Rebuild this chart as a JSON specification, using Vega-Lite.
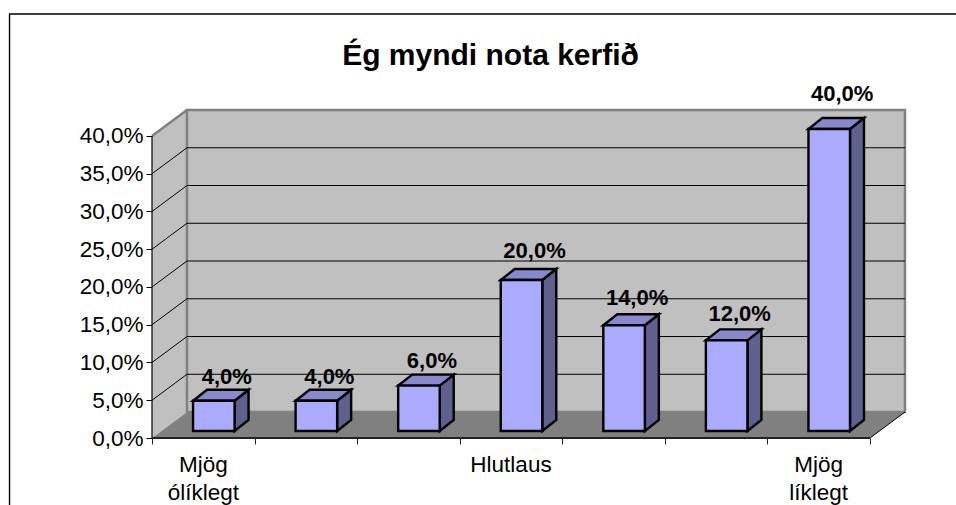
{
"$schema":"https://vega.github.io/schema/vega-lite/v6.json",
"autosize":"none","width":753,"height":328,
"padding":{"left":152,"top":110,"right":51,"bottom":67},
"background":"white",
"title":{"text":"Ég myndi nota kerfið","font":"Liberation Sans","fontSize":30,"fontWeight":"bold","color":"black","anchor":"middle","dx":-38,"offset":-58},
"config":{"view":{"stroke":null}},
"datasets":{
"bars":[
{"index":0,"value":4,"label":"Mjög\nólíklegt"},
{"index":1,"value":4,"label":""},
{"index":2,"value":6,"label":""},
{"index":3,"value":20,"label":"Hlutlaus"},
{"index":4,"value":14,"label":""},
{"index":5,"value":12,"label":""},
{"index":6,"value":40,"label":"Mjög\nlíklegt"}],
"grid":[{"tick":5},{"tick":10},{"tick":15},{"tick":20},{"tick":25},{"tick":30},{"tick":35}],
"one":[{"n":1}],
"ends":[{"t":0},{"t":1}]
},
"layer":[
{"data":{"name":"ends"},"transform":[{"calculate":"datum.t*0.341","as":"px"},{"calculate":"datum.t*3.44","as":"low"},{"calculate":"40+datum.t*3.44","as":"high"}],
 "mark":{"type":"area","orient":"vertical","fill":"#C0C0C0","opacity":1},
 "encoding":{"x":{"field":"px","type":"quantitative","scale":{"domain":[0,7.3413],"nice":false,"zero":false},
   "axis":{"values":[0,1,2,3,4,5,6,7],"labels":false,"ticks":true,"tickSize":6,"tickColor":"#222222","tickWidth":1,"domain":false,"grid":false,"title":null}},
  "y":{"field":"low","type":"quantitative","scale":{"domain":[0,43.44],"nice":false,"zero":false},
   "axis":{"values":[0,5,10,15,20,25,30,35,40],"labelExpr":"replace(format(datum.value,'.1f'),'.',',')+'%'","labelFont":"Liberation Sans","labelFontSize":22.5,"labelColor":"black","labelPadding":3,"tickSize":6,"tickColor":"black","tickWidth":1,"domain":false,"grid":false,"title":null}},
  "y2":{"field":"high"}}},
{"data":{"name":"one"},"mark":{"type":"rect","fill":"transparent","stroke":"black","strokeWidth":1.4},
 "encoding":{"x":{"datum":-1.389,"type":"quantitative","scale":{"domain":[0,7.3413],"nice":false,"zero":false}},
  "x2":{"datum":9},
  "y":{"datum":56.15,"type":"quantitative","scale":{"domain":[0,43.44],"nice":false,"zero":false}},
  "y2":{"datum":-12}}},
{"data":{"name":"one"},"mark":{"type":"rect","fill":"#C0C0C0","stroke":"#808080","strokeWidth":2.5},
 "encoding":{"x":{"datum":0.341,"type":"quantitative","scale":{"domain":[0,7.3413],"nice":false,"zero":false}},"x2":{"datum":7.341},
  "y":{"datum":3.44,"type":"quantitative","scale":{"domain":[0,43.44],"nice":false,"zero":false}},"y2":{"datum":43.44}}},
{"data":{"name":"one"},"mark":{"type":"rule","stroke":"#808080","strokeWidth":2.5},
 "encoding":{"x":{"datum":0,"type":"quantitative","scale":{"domain":[0,7.3413],"nice":false,"zero":false}},"x2":{"datum":0.341},
  "y":{"datum":40,"type":"quantitative","scale":{"domain":[0,43.44],"nice":false,"zero":false}},"y2":{"datum":43.44}}},
{"data":{"name":"grid"},"transform":[{"calculate":"datum.tick+3.44","as":"back"}],"mark":{"type":"rule","stroke":"black","strokeWidth":1},
 "encoding":{"x":{"datum":0.341,"type":"quantitative","scale":{"domain":[0,7.3413],"nice":false,"zero":false}},"x2":{"datum":7.341},
  "y":{"field":"back","type":"quantitative","scale":{"domain":[0,43.44],"nice":false,"zero":false}}}},
{"data":{"name":"grid"},"transform":[{"calculate":"datum.tick+3.44","as":"back"}],"mark":{"type":"rule","stroke":"black","strokeWidth":1},
 "encoding":{"x":{"datum":0,"type":"quantitative","scale":{"domain":[0,7.3413],"nice":false,"zero":false}},"x2":{"datum":0.341},
  "y":{"field":"tick","type":"quantitative","scale":{"domain":[0,43.44],"nice":false,"zero":false}},"y2":{"field":"back"}}},
{"data":{"name":"ends"},"transform":[{"calculate":"datum.t*3.44","as":"py"},{"calculate":"datum.t*0.341","as":"a"},{"calculate":"7+datum.t*0.341","as":"b"}],
 "mark":{"type":"area","orient":"horizontal","fill":"#808080","opacity":1},
 "encoding":{"y":{"field":"py","type":"quantitative","scale":{"domain":[0,43.44],"nice":false,"zero":false}},
  "x":{"field":"a","type":"quantitative","scale":{"domain":[0,7.3413],"nice":false,"zero":false}},"x2":{"field":"b"}}},
{"data":{"name":"one"},"mark":{"type":"rule","stroke":"black","strokeWidth":1},
 "encoding":{"x":{"datum":7,"type":"quantitative","scale":{"domain":[0,7.3413],"nice":false,"zero":false}},"x2":{"datum":7.341},
  "y":{"datum":0,"type":"quantitative","scale":{"domain":[0,43.44],"nice":false,"zero":false}},"y2":{"datum":3.44}}},
{"data":{"name":"one"},"mark":{"type":"rule","stroke":"black","strokeWidth":1.2},
 "encoding":{"x":{"datum":0,"type":"quantitative","scale":{"domain":[0,7.3413],"nice":false,"zero":false}},
  "y":{"datum":0,"type":"quantitative","scale":{"domain":[0,43.44],"nice":false,"zero":false}},"y2":{"datum":40}}},
{"data":{"name":"one"},"mark":{"type":"rule","stroke":"#222222","strokeWidth":1.8},
 "encoding":{"x":{"datum":0,"type":"quantitative","scale":{"domain":[0,7.3413],"nice":false,"zero":false}},"x2":{"datum":7},
  "y":{"datum":0,"type":"quantitative","scale":{"domain":[0,43.44],"nice":false,"zero":false}}}},
{"data":{"name":"bars"},"transform":[{"calculate":"[0,1]","as":"t"},{"flatten":["t"]},{"calculate":"datum.index+0.805+datum.t*0.1365","as":"px"},{"calculate":"0.93+datum.t*1.46","as":"low"},{"calculate":"datum.value+0.93+datum.t*1.46","as":"high"}],
 "mark":{"type":"area","orient":"vertical","fill":"#60608F","stroke":"black","strokeWidth":2.4,"strokeJoin":"miter","opacity":1},
 "encoding":{"detail":{"field":"index"},"x":{"field":"px","type":"quantitative","scale":{"domain":[0,7.3413],"nice":false,"zero":false}},
  "y":{"field":"low","type":"quantitative","scale":{"domain":[0,43.44],"nice":false,"zero":false}},"y2":{"field":"high"}}},
{"data":{"name":"bars"},"transform":[{"calculate":"[0,1]","as":"t"},{"flatten":["t"]},{"calculate":"datum.value+0.93+datum.t*1.46","as":"py"},{"calculate":"datum.index+0.40+datum.t*0.1365","as":"a"},{"calculate":"datum.index+0.805+datum.t*0.1365","as":"b"}],
 "mark":{"type":"area","orient":"horizontal","fill":"#8888CC","stroke":"black","strokeWidth":2.4,"strokeJoin":"miter","opacity":1},
 "encoding":{"detail":{"field":"index"},"y":{"field":"py","type":"quantitative","scale":{"domain":[0,43.44],"nice":false,"zero":false}},
  "x":{"field":"a","type":"quantitative","scale":{"domain":[0,7.3413],"nice":false,"zero":false}},"x2":{"field":"b"}}},
{"data":{"name":"bars"},"transform":[{"calculate":"datum.index+0.40","as":"a"},{"calculate":"datum.index+0.805","as":"b"},{"calculate":"datum.value+0.93","as":"top"},{"calculate":"0.93","as":"base"}],
 "mark":{"type":"rect","fill":"#AAAAFF","stroke":"black","strokeWidth":2.4},
 "encoding":{"x":{"field":"a","type":"quantitative","scale":{"domain":[0,7.3413],"nice":false,"zero":false}},"x2":{"field":"b"},
  "y":{"field":"base","type":"quantitative","scale":{"domain":[0,43.44],"nice":false,"zero":false}},"y2":{"field":"top"}}},
{"data":{"name":"bars"},"transform":[{"calculate":"datum.index+0.6025","as":"c"},{"calculate":"datum.value*1.04+0.24","as":"top"},{"calculate":"replace(format(datum.value,'.1f'),'.',',')+'%'","as":"txt"}],
 "mark":{"type":"text","font":"Liberation Sans","fontSize":22,"fontWeight":"bold","color":"black","align":"center","baseline":"alphabetic","dx":13,"dy":-21},
 "encoding":{"x":{"field":"c","type":"quantitative","scale":{"domain":[0,7.3413],"nice":false,"zero":false}},
  "y":{"field":"top","type":"quantitative","scale":{"domain":[0,43.44],"nice":false,"zero":false}},"text":{"field":"txt"}}},
{"data":{"name":"bars"},"transform":[{"filter":"datum.label!=''"},{"calculate":"datum.index+0.5","as":"c"},{"calculate":"0","as":"base"}],
 "mark":{"type":"text","font":"Liberation Sans","fontSize":22.5,"color":"black","align":"center","baseline":"alphabetic","dy":34,"lineBreak":"\n","lineHeight":28},
 "encoding":{"x":{"field":"c","type":"quantitative","scale":{"domain":[0,7.3413],"nice":false,"zero":false}},
  "y":{"field":"base","type":"quantitative","scale":{"domain":[0,43.44],"nice":false,"zero":false}},"text":{"field":"label"}}}
]
}
